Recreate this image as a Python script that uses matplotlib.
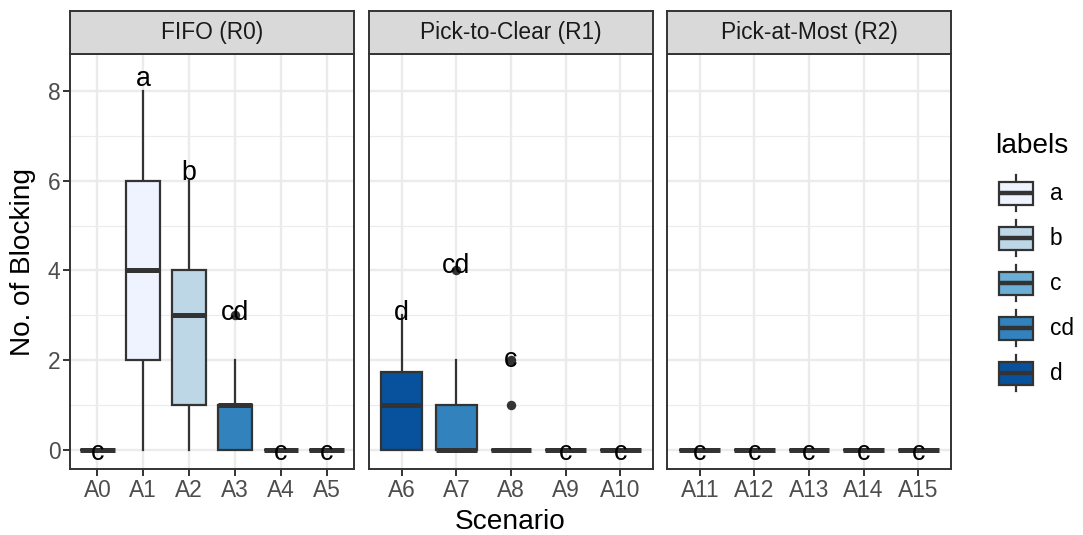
import matplotlib
matplotlib.use("Agg")
import matplotlib.pyplot as plt
from matplotlib.patches import Rectangle
from matplotlib.lines import Line2D
from matplotlib.transforms import ScaledTranslation

plt.rcParams['font.family'] = ['Liberation Sans', 'DejaVu Sans']

# Scenarios grouped by release rule
panels = ["FIFO (R0)", "Pick-to-Clear (R1)", "Pick-at-Most (R2)"]
panel_scenarios = [
    ["A0", "A1", "A2", "A3", "A4", "A5"],
    ["A6", "A7", "A8", "A9", "A10"],
    ["A11", "A12", "A13", "A14", "A15"],
]

# Box statistics per scenario (A0 .. A15)
q1 = [0, 2, 1, 0, 0, 0, 0, 0, 0, 0, 0, 0, 0, 0, 0, 0]
median = [0, 4, 3, 1, 0, 0, 1, 0, 0, 0, 0, 0, 0, 0, 0, 0]
q3 = [0, 6, 4, 1, 0, 0, 1.75, 1, 0, 0, 0, 0, 0, 0, 0, 0]
whisker_lo = [0] * 16
whisker_hi = [0, 8, 6, 2, 0, 0, 3, 2, 0, 0, 0, 0, 0, 0, 0, 0]
outliers = [[], [], [], [3], [], [], [], [4], [1, 2], [], [], [], [], [], [], []]
group_labels = ["c", "a", "b", "cd", "c", "c", "d", "cd", "c", "c", "c",
                "c", "c", "c", "c", "c"]

legend_levels = ["a", "b", "c", "cd", "d"]
level_colors = ["#EFF3FF", "#BDD7E7", "#6BAED6", "#3182BD", "#08519C"]
fill_of = dict(zip(legend_levels, level_colors))

EDGE = "#333333"
GRID = "#EBEBEB"
W, H = 1083, 535
fig = plt.figure(figsize=(W / 100, H / 100), dpi=100)

panel_left = [70, 369, 667]
panel_w = 284
panel_top, panel_bottom = 54, 469
strip_top = 11

ylo, yhi = -0.42, 8.82
tick_fs = 16.4
title_fs = 20.2
label_fs = 19.3

# nudge letters slightly downward so their x-height sits on the anchor
letter_shift = ScaledTranslation(0, -0.03, fig.dpi_scale_trans)

idx = 0
for p, (name, scen) in enumerate(zip(panels, panel_scenarios)):
    ax = fig.add_axes([panel_left[p] / W, 1 - panel_bottom / H,
                       panel_w / W, (panel_bottom - panel_top) / H])
    n = len(scen)
    stats = []
    for k in range(n):
        i = idx + k
        stats.append(dict(med=median[i], q1=q1[i], q3=q3[i],
                          whislo=whisker_lo[i], whishi=whisker_hi[i],
                          fliers=outliers[i], label=scen[k]))
    bp = ax.bxp(stats, positions=list(range(n)), widths=0.75,
                patch_artist=True, showcaps=False, manage_ticks=False,
                boxprops=dict(edgecolor=EDGE, linewidth=1.6),
                whiskerprops=dict(color=EDGE, linewidth=1.6),
                medianprops=dict(color=EDGE, linewidth=3.6,
                                 solid_capstyle='butt'),
                flierprops=dict(marker='o', markerfacecolor=EDGE,
                                markeredgecolor=EDGE, markersize=5.8))
    for k, box in enumerate(bp['boxes']):
        box.set_facecolor(fill_of[group_labels[idx + k]])
        box.set_zorder(3)
    for art in bp['medians']:
        art.set_zorder(4)
    for art in bp['whiskers'] + bp['fliers']:
        art.set_zorder(2)

    # group letters above each box
    for k in range(n):
        i = idx + k
        top = max([whisker_hi[i]] + outliers[i])
        ax.text(k, top * 1.04, group_labels[i], ha='center', va='center',
                fontsize=label_fs, color='black', zorder=6,
                transform=ax.transData + letter_shift)

    ax.set_xlim(-0.6, n - 0.4)
    ax.set_ylim(ylo, yhi)
    ax.set_xticks(range(n))
    ax.set_xticklabels(scen)
    ax.set_yticks([0, 2, 4, 6, 8])
    ax.set_yticks([1, 3, 5, 7], minor=True)
    ax.grid(True, which='major', color=GRID, linewidth=1.7, zorder=0)
    ax.grid(True, which='minor', axis='y', color=GRID, linewidth=0.85, zorder=0)
    ax.set_axisbelow(True)
    ax.tick_params(axis='x', which='major', length=5, width=1.4, color=EDGE,
                   labelsize=tick_fs, labelcolor='#4D4D4D', pad=2)
    ax.tick_params(axis='y', which='minor', length=0)
    if p == 0:
        ax.tick_params(axis='y', which='major', length=5, width=1.4, color=EDGE,
                       labelsize=tick_fs, labelcolor='#4D4D4D', pad=2)
    else:
        ax.tick_params(axis='y', which='major', length=0, labelleft=False)
    for s in ax.spines.values():
        s.set_color(EDGE)
        s.set_linewidth(1.4)
        s.set_zorder(7)

    # facet strip
    sax = fig.add_axes([panel_left[p] / W, 1 - panel_top / H,
                        panel_w / W, (panel_top - strip_top) / H])
    sax.set_facecolor("#D9D9D9")
    sax.set_xticks([])
    sax.set_yticks([])
    for s in sax.spines.values():
        s.set_color(EDGE)
        s.set_linewidth(1.4)
    sax.text(0.5, 0.5, name, ha='center', va='center', fontsize=tick_fs,
             color='#1A1A1A', transform=sax.transAxes)
    idx += n

fig.text(510 / W, 1 - 522 / H, "Scenario", ha='center', va='center',
         fontsize=title_fs)
fig.text(23 / W, 1 - 262 / H, "No. of Blocking", ha='center', va='center',
         rotation=90, fontsize=title_fs)

# legend with boxplot keys
lax = fig.add_axes([0, 0, 1, 1], facecolor='none')
lax.set_xlim(0, W)
lax.set_ylim(H, 0)
lax.axis('off')
lax.text(995, 146, "labels", ha='left', va='center', fontsize=title_fs)
kx = 1015.5
for j, (lev, col) in enumerate(zip(legend_levels, level_colors)):
    ky = 193.3 + 45 * j
    lax.add_line(Line2D([kx, kx], [ky - 18, ky + 18], color=EDGE, lw=1.6))
    lax.add_patch(Rectangle((kx - 17, ky - 11.5), 34, 23, facecolor=col,
                            edgecolor=EDGE, lw=1.6, zorder=3))
    lax.add_line(Line2D([kx - 17, kx + 17], [ky, ky], color=EDGE, lw=3.2,
                        zorder=4, solid_capstyle='butt'))
    lax.text(1050, ky, lev, ha='left', va='center', fontsize=tick_fs)

fig.savefig("out.png", dpi=100)
